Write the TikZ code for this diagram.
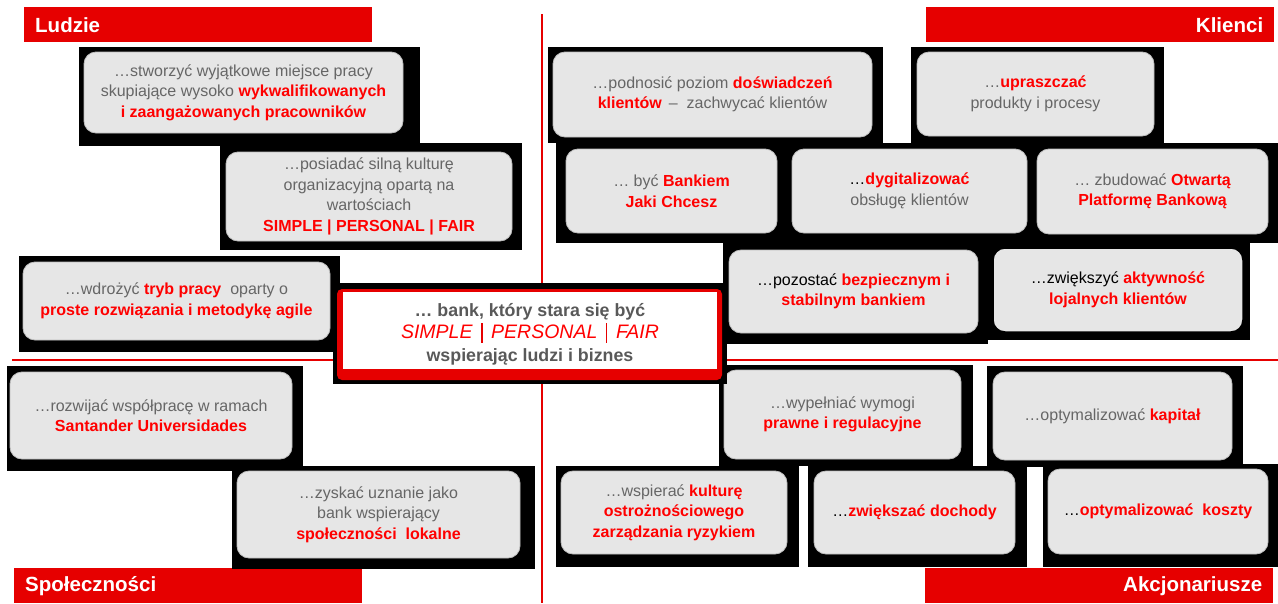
\documentclass[tikz,border=0pt]{standalone}
\usepackage{fontspec}
\setmainfont{Liberation Sans}
\definecolor{barred}{HTML}{E60000}
\definecolor{hired}{HTML}{FF0000}
\definecolor{txtgrey}{HTML}{666666}
\definecolor{coregrey}{HTML}{595959}
\definecolor{boxfill}{HTML}{E6E6E6}
\definecolor{boxedge}{HTML}{BDBDBD}
\newcommand\hl[1]{\textcolor{hired}{\bfseries #1}}
\newcommand\dk[1]{\textcolor{black}{#1}}
\newcommand\vbar{\textcolor{barred}{\rule[-4pt]{1.3pt}{20pt}}}
\begin{document}
\begin{tikzpicture}[x=1pt,y=-1pt,
  backing/.style={fill=black},
  panel/.style={rounded corners=12pt, fill=boxfill, draw=boxedge, line width=0.8pt,
    align=center, text=txtgrey, font=\fontsize{16}{20.5}\selectfont, inner sep=0pt},
  header/.style={fill=barred, text=white, font=\fontsize{20.5}{23}\selectfont\bfseries,
    inner ysep=0pt, inner xsep=11pt, minimum height=35pt, text width=326pt},
  divider/.style={draw=barred, line width=2.5pt}]
\useasboundingbox (0,0) rectangle (1278,603);
\fill[white] (0,0) rectangle (1278,603);

% quadrant dividers
\draw[divider] (12,360) -- (1278,360);
\draw[divider] (542,14) -- (542,603);

% quadrant headers
\node[header, align=left, anchor=north west] (ludzie) at (24,7) {Ludzie};
\node[header, align=right, anchor=north west] (klienci) at (926,7) {Klienci};
\node[header, align=left, anchor=north west] (spol) at (14,568) {Społeczności};
\node[header, align=right, anchor=north west] (akcj) at (925,568) {Akcjonariusze};

% black backing plates
\fill[backing] (79,47) rectangle (420,146);
\fill[backing] (220,143) rectangle (522,250);
\fill[backing] (19,256) rectangle (340,352);
\fill[backing] (548,47) rectangle (883,143);
\fill[backing] (911,47) rectangle (1164,143);
\fill[backing] (556,143) rectangle (1278,243);
\fill[backing] (723,240) rectangle (988,344);
\fill[backing] (985,243) rectangle (1250,340);
\fill[backing] (7,366) rectangle (303,471);
\fill[backing] (232,466) rectangle (535,569);
\fill[backing] (719,365) rectangle (973,466);
\fill[backing] (987,366) rectangle (1243,467);
\fill[backing] (556,466) rectangle (799,567);
\fill[backing] (808,466) rectangle (1027,567);
\fill[backing] (1043,464) rectangle (1278,567);

% Ludzie
\node[panel, minimum width=319pt, minimum height=81pt] (l1) at (243.5,92.5)
  {…stworzyć wyjątkowe miejsce pracy\\skupiające wysoko \hl{wykwalifikowanych}\\\hl{i zaangażowanych pracowników}};
\node[panel, minimum width=286pt, minimum height=89pt] (l2) at (369,196.5)
  {…posiadać silną kulturę\\organizacyjną opartą na\\wartościach\\\hl{SIMPLE | PERSONAL | FAIR}};
\node[panel, minimum width=307pt, minimum height=78pt] (l3) at (176.5,301)
  {…wdrożyć \hl{tryb pracy}\ \ oparty o\\\hl{proste rozwiązania i metodykę agile}};

% Klienci
\node[panel, minimum width=319pt, minimum height=85pt] (k1) at (712.5,94.5)
  {…podnosić poziom \hl{doświadczeń}\\\hl{klientów} \,–\ \ zachwycać klientów};
\node[panel, minimum width=237pt, minimum height=84pt] (k2) at (1035.5,94)
  {…\hl{upraszczać}\\produkty i procesy};
\node[panel, minimum width=211pt, minimum height=84pt] (k3) at (671.5,191)
  {… być \hl{Bankiem}\\\hl{Jaki Chcesz}};
\node[panel, minimum width=235pt, minimum height=84pt] (k4) at (909.5,191)
  {\dk{…}\hl{dygitalizować}\\obsługę klientów};
\node[panel, minimum width=231pt, minimum height=85pt] (k5) at (1152.5,191.5)
  {… zbudować \hl{Otwartą}\\\hl{Platformę Bankową}};
\node[panel, minimum width=249pt, minimum height=83pt] (k6) at (853.5,291.5)
  {\dk{…pozostać} \hl{bezpiecznym i}\\\hl{stabilnym bankiem}};
\node[panel, draw=black, line width=1.5pt, minimum width=250pt, minimum height=84pt] (k7) at (1118,290)
  {\dk{…zwiększyć} \hl{aktywność}\\\hl{lojalnych klientów}};

% Społeczności
\node[panel, minimum width=282pt, minimum height=87pt] (s1) at (151,415.5)
  {…rozwijać współpracę w ramach\\\hl{Santander Universidades}};
\node[panel, minimum width=283pt, minimum height=87pt] (s2) at (378.5,514.5)
  {…zyskać uznanie jako\\bank wspierający\\\hl{społeczności\ \ lokalne}};

% Akcjonariusze
\node[panel, minimum width=237pt, minimum height=89pt] (a1) at (842.5,414.5)
  {…wypełniać wymogi\\\hl{prawne i regulacyjne}};
\node[panel, minimum width=239pt, minimum height=88pt] (a2) at (1112.5,416)
  {…optymalizować \hl{kapitał}};
\node[panel, minimum width=226pt, minimum height=83pt] (a3) at (674,512.5)
  {…wspierać \hl{kulturę}\\\hl{ostrożnościowego}\\\hl{zarządzania ryzykiem}};
\node[panel, minimum width=201pt, minimum height=83pt] (a4) at (914.5,512.5)
  {\dk{…}\hl{zwiększać dochody}};
\node[panel, minimum width=220pt, minimum height=85pt] (a5) at (1158,511.5)
  {\dk{…}\hl{optymalizować\ \ koszty}};

% central statement
\fill[backing] (333,283) rectangle (727,384);
\fill[barred, rounded corners=5pt] (337,289) rectangle (722,380);
\fill[white] (343,292) rectangle (717,369);
\node[inner sep=0pt, align=center, text=coregrey,
  font=\fontsize{17.8}{22.5}\selectfont\bfseries] (core) at (530,334)
  {… bank, który stara się być\\
   {\mdseries\itshape\fontsize{19.5}{22.5}\selectfont\color{hired}SIMPLE \,\vbar{}\, PERSONAL \,\vbar{}\, FAIR}\\
   wspierając ludzi i biznes};
\end{tikzpicture}
\end{document}
